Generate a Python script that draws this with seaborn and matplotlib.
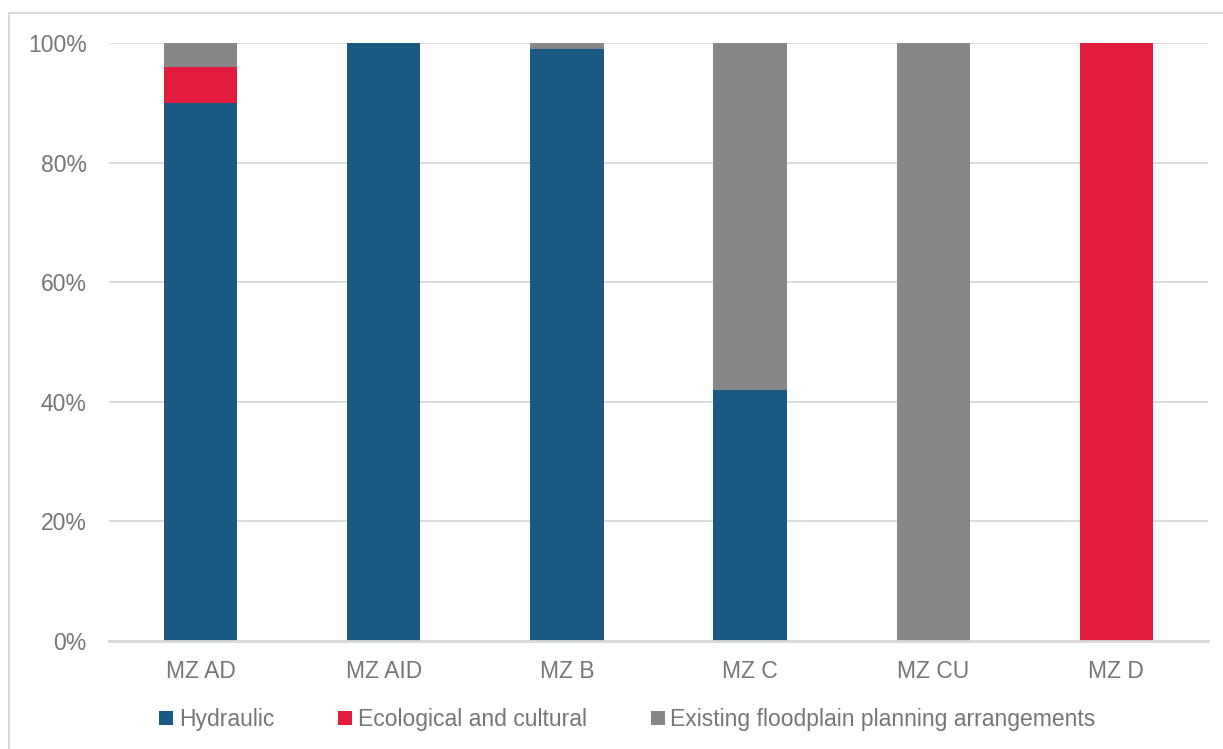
import matplotlib
matplotlib.use("Agg")
import matplotlib.pyplot as plt
import seaborn as sns
import pandas as pd
import numpy as np
from matplotlib.patches import Rectangle, Patch
from matplotlib.ticker import PercentFormatter

categories = ["MZ AD", "MZ AID", "MZ B", "MZ C", "MZ CU", "MZ D"]
hydraulic = [90, 100, 99, 42, 0, 0]
ecological = [6, 0, 0, 0, 0, 100]
existing = [4, 0, 1, 58, 100, 0]
series_names = ["Hydraulic", "Ecological and cultural", "Existing floodplain planning arrangements"]
colors = ["#195982", "#E21C3D", "#868788"]
yticks = [0, 20, 40, 60, 80, 100]

sns.set_theme(style="white")
plt.rcParams["font.family"] = ["Liberation Sans", "DejaVu Sans"]

fig = plt.figure(figsize=(12.23, 7.49), dpi=100)
ax = fig.add_axes([109/1223, 1 - 641/749, (1208-109)/1223, (641-43)/749])

df = pd.DataFrame({"cat": categories, "h": hydraulic, "e": ecological, "x": existing})
df["h_frac"] = df["h"] / 100
df["he_frac"] = (df["h"] + df["e"]) / 100
df["all_frac"] = (df["h"] + df["e"] + df["x"]) / 100

kw = dict(x="cat", order=categories, width=0.4, ax=ax, linewidth=0, errorbar=None, saturation=1)
sns.barplot(data=df, y="all_frac", color=colors[2], **kw)
sns.barplot(data=df, y="he_frac", color=colors[1], **kw)
sns.barplot(data=df, y="h_frac", color=colors[0], **kw)

text_color = "#767676"
ax.set_ylim(0, 1)
ax.set_xlim(-0.5, 5.5)
ax.set_yticks([v/100 for v in yticks])
ax.yaxis.set_major_formatter(PercentFormatter(1.0, decimals=0))
ax.grid(axis="y", color="#D9D9D9", linewidth=1.3)
ax.set_axisbelow(True)
for s in ["top", "right", "left"]:
    ax.spines[s].set_visible(False)
ax.spines["bottom"].set_color("#D9D9D9")
ax.spines["bottom"].set_linewidth(2)
ax.tick_params(axis="both", length=0, labelsize=16.5, labelcolor=text_color)
ax.tick_params(axis="y", pad=16)
ax.tick_params(axis="x", pad=14)
ax.set_xlabel("")
ax.set_ylabel("")

handles = [Patch(facecolor=c, edgecolor="none") for c in colors]
fig.legend(handles, series_names, loc="center", bbox_to_anchor=(0.513, 0.039), ncol=3,
           frameon=False, fontsize=16.5, labelcolor=text_color,
           handlelength=0.6, handleheight=0.6, handletextpad=0.25, columnspacing=2.8)

fig.patches.append(Rectangle((9/1223, -0.1), 1.2, 1 - 13.5/749 + 0.1, transform=fig.transFigure,
                             fill=False, edgecolor="#D9D9D9", linewidth=1.5))

fig.savefig("out.png", dpi=100)
